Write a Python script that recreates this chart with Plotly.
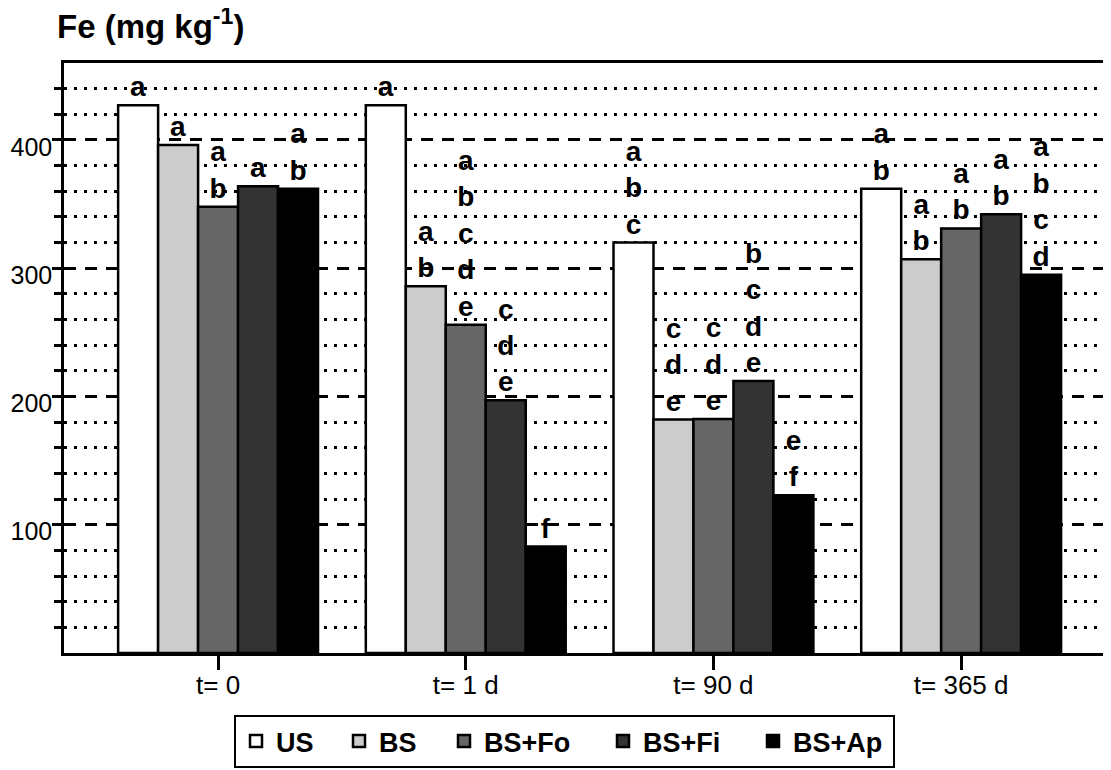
import plotly.graph_objects as go

categories = ["t= 0", "t= 1 d", "t= 90 d", "t= 365 d"]
series_names = ["US", "BS", "BS+Fo", "BS+Fi", "BS+Ap"]
series_colors = ["#ffffff", "#cccccc", "#666666", "#333333", "#000000"]

us_vals = [427, 427, 320, 362]
bs_vals = [396, 286, 182, 307]
bsfo_vals = [348, 256, 182.5, 331]
bsfi_vals = [364, 197, 212, 342]
bsap_vals = [362, 83, 123, 295]

us_letters = ["a", "a", "abc", "ab"]
bs_letters = ["a", "ab", "cde", "ab"]
bsfo_letters = ["ab", "abcde", "cde", "ab"]
bsfi_letters = ["a", "cde", "bcde", "ab"]
bsap_letters = ["ab", "f", "ef", "abcd"]

y_tick_vals = [100, 200, 300, 400]
y_minor_vals = [20, 40, 60, 80, 120, 140, 160, 180, 220, 240, 260, 280,
                320, 340, 360, 380, 420, 440]

# legend entry widths (px) to mimic the spacing of the original legend
legend_widths = [58, 60, 114, 105, 95]

all_vals = [us_vals, bs_vals, bsfo_vals, bsfi_vals, bsap_vals]
all_letters = [us_letters, bs_letters, bsfo_letters, bsfi_letters, bsap_letters]

# the page body has an 8px default margin, so the figure is sized to fit the window
W, H = 1103, 762

fig = go.Figure()
for name, color, vals, letters, lw in zip(series_names, series_colors, all_vals,
                                          all_letters, legend_widths):
    fig.add_trace(go.Bar(
        name=name,
        x=categories,
        y=vals,
        marker=dict(color=color, line=dict(color="black", width=2.5)),
        text=["<br>".join(list(s)) for s in letters],
        textposition="outside",
        textfont=dict(family="Arial", size=28, color="black", weight="bold"),
        constraintext="none",
        cliponaxis=False,
        hoverinfo="skip",
        legendwidth=lw,
    ))

fig.update_layout(
    width=W,
    height=H,
    barmode="group",
    bargap=0.193,
    bargroupgap=0,
    plot_bgcolor="white",
    paper_bgcolor="white",
    margin=dict(l=56, r=0, t=55, b=117),
    font=dict(family="Arial", color="black"),
    title=dict(
        text="<b>Fe (mg kg<sup>-1</sup>)</b>",
        font=dict(family="Arial", size=33, color="black"),
        xref="container", x=49 / W, xanchor="left",
        yref="container", y=1 - 18 / H, yanchor="middle",
    ),
    xaxis=dict(
        type="category",
        range=[-0.622, 3.605],
        automargin=False,
        showline=True, linecolor="black", linewidth=2.5, mirror=True,
        ticks="outside", ticklen=14, tickwidth=2.5, tickcolor="black",
        ticklabelstandoff=-7,
        tickfont=dict(family="Arial", size=26, color="black"),
        showgrid=False,
    ),
    yaxis=dict(
        range=[0, 460],
        automargin=False,
        tickmode="array", tickvals=y_tick_vals,
        showline=True, linecolor="black", linewidth=2.5,
        ticks="outside", ticklen=9, tickwidth=2.5, tickcolor="black",
        ticklabelstandoff=-5, ticklabelshift=7,
        tickfont=dict(family="Arial", size=25, color="black"),
        showgrid=True, gridcolor="black", gridwidth=2.5, griddash="12px,9px",
        zeroline=False,
        minor=dict(tickmode="array", tickvals=y_minor_vals, ticks="outside", ticklen=7,
                   tickwidth=2.5, tickcolor="black",
                   showgrid=True, gridcolor="black", gridwidth=2.5, griddash="3px,7px"),
    ),
    legend=dict(
        orientation="h",
        xref="container", yref="container",
        x=226 / W, xanchor="left",
        y=1 - 707 / H, yanchor="top",
        bordercolor="black", borderwidth=2, bgcolor="white",
        font=dict(family="Arial", size=27, color="black", weight="bold"),
        itemclick=False,
    ),
    showlegend=True,
)

fig.write_html("out.html")
